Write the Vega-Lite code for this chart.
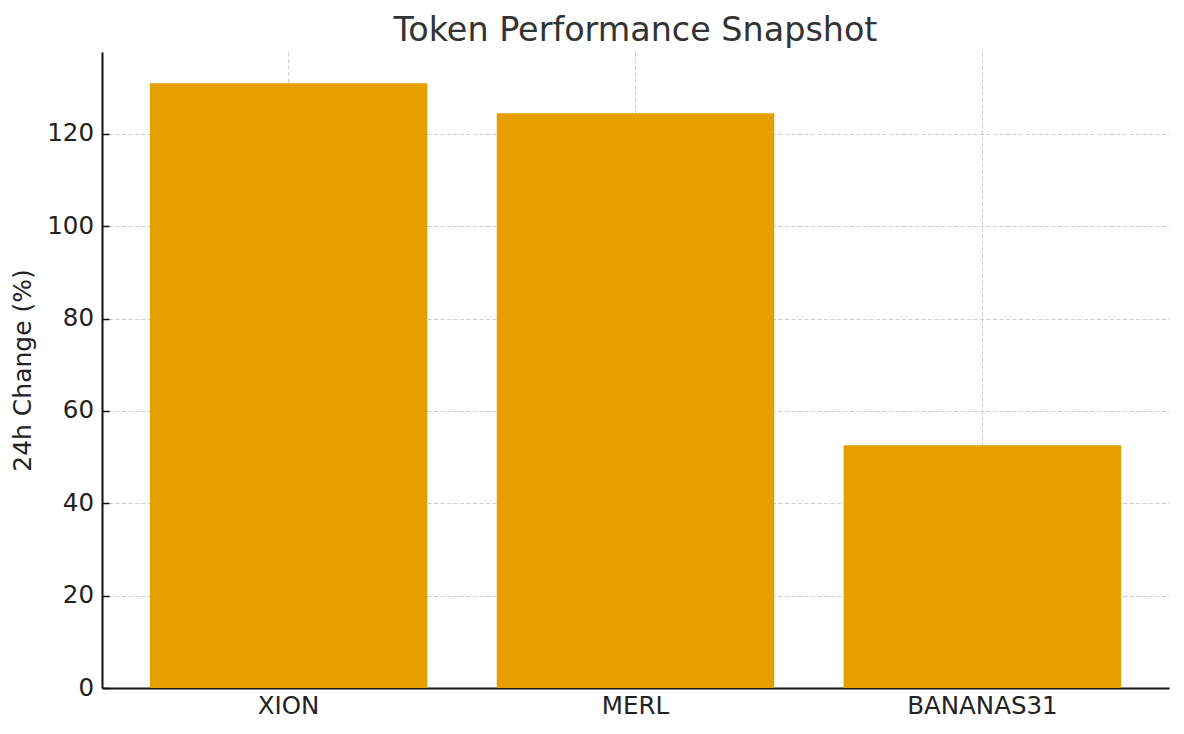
{
  "$schema": "https://vega.github.io/schema/vega-lite/v6.json",
  "width": 1067,
  "height": 636,
  "autosize": {"type": "none"},
  "padding": {"left": 102, "top": 52, "right": 15, "bottom": 46},
  "background": "white",
  "title": {
    "text": "Token Performance Snapshot",
    "fontSize": 33.4,
    "font": "DejaVu Sans",
    "fontWeight": "normal",
    "color": "#333333",
    "anchor": "middle",
    "baseline": "alphabetic",
    "offset": 10,
    "dy": 32
  },
  "config": {
    "view": {"stroke": null},
    "font": "DejaVu Sans",
    "axis": {
      "labelFont": "DejaVu Sans",
      "titleFont": "DejaVu Sans",
      "labelFontSize": 24.5,
      "titleFontSize": 25,
      "labelColor": "#222222",
      "titleColor": "#222222",
      "titleFontWeight": "normal",
      "domainColor": "#111111",
      "domainWidth": 2,
      "tickColor": "#111111",
      "tickWidth": 1.5,
      "tickSize": -7,
      "gridColor": "#cccccc",
      "gridDash": [4, 2.5],
      "gridWidth": 1,
      "zindex": 1
    }
  },
  "data": {
    "values": [
      {"token": "XION", "change": 131.0},
      {"token": "MERL", "change": 124.5},
      {"token": "BANANAS31", "change": 52.6}
    ]
  },
  "mark": {"type": "bar", "color": "#E69F00"},
  "encoding": {
    "x": {
      "field": "token",
      "type": "nominal",
      "sort": null,
      "scale": {"paddingInner": 0.2, "paddingOuter": 0.138},
      "axis": {
        "title": null,
        "labelAngle": 0,
        "grid": true,
        "bandPosition": 0.5,
        "labelPadding": 13
      }
    },
    "y": {
      "field": "change",
      "type": "quantitative",
      "scale": {"domain": [0, 137.75], "nice": false, "zero": true},
      "axis": {
        "title": "24h Change (%)",
        "values": [0, 20, 40, 60, 80, 100, 120],
        "grid": true,
        "labelPadding": 15.5,
        "titlePadding": 11
      }
    }
  }
}
